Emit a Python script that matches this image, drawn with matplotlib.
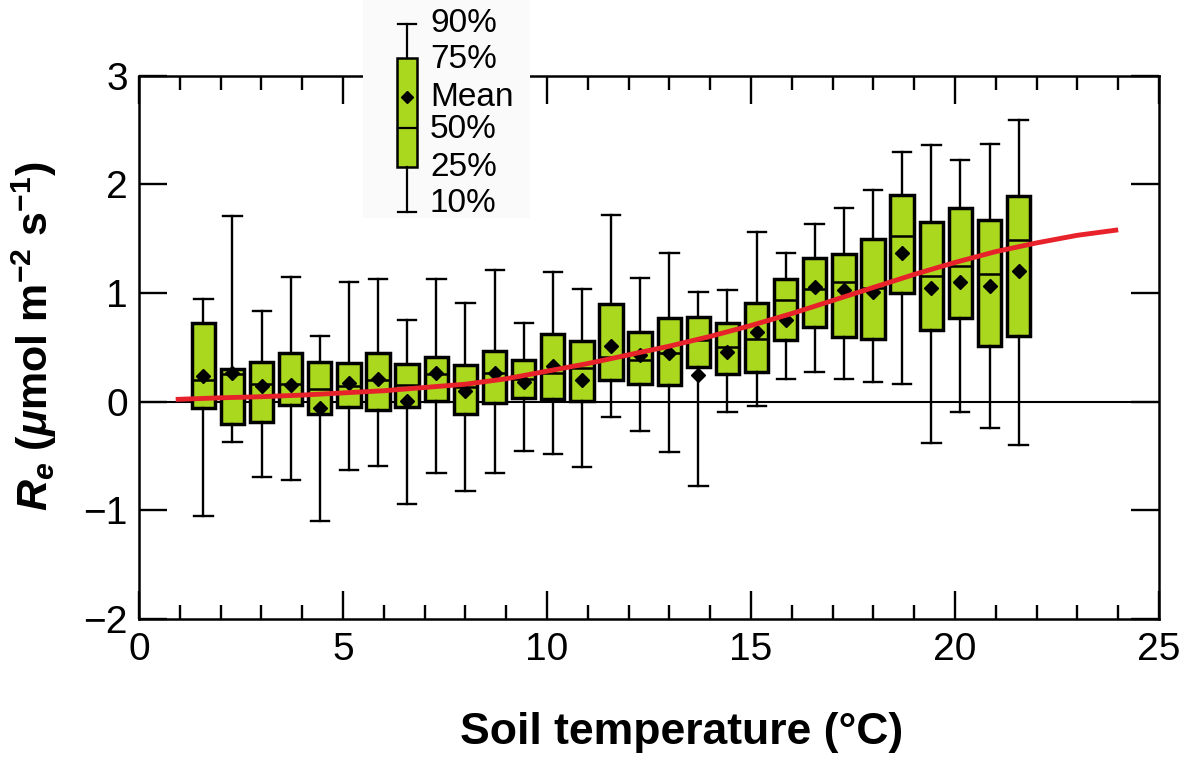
import matplotlib
matplotlib.use("Agg")
import matplotlib.pyplot as plt

plt.rcParams['font.family'] = ['Liberation Sans', 'DejaVu Sans']
plt.rcParams['mathtext.fontset'] = 'custom'
plt.rcParams['mathtext.rm'] = 'Liberation Sans:bold'
plt.rcParams['mathtext.it'] = 'Liberation Sans:italic:bold'
plt.rcParams['mathtext.bf'] = 'Liberation Sans:bold'

# soil temperature bin centres (°C)
temp = [1.58, 2.29, 3.01, 3.72, 4.43, 5.15, 5.86, 6.57, 7.29, 8.00,
        8.72, 9.43, 10.14, 10.86, 11.57, 12.28, 13.00, 13.71, 14.42, 15.14,
        15.85, 16.56, 17.28, 17.99, 18.70, 19.42, 20.13, 20.85, 21.56]

# Re percentiles and mean per bin
p10 = [-1.05, -0.375, -0.695, -0.725, -1.10, -0.625, -0.595, -0.94, -0.66, -0.82,
       -0.66, -0.45, -0.48, -0.60, -0.14, -0.27, -0.46, -0.78, -0.10, -0.04,
       0.205, 0.275, 0.21, 0.18, 0.16, -0.38, -0.10, -0.24, -0.40]
p25 = [-0.055, -0.21, -0.185, -0.03, -0.11, -0.05, -0.08, -0.05, 0.01, -0.11,
       -0.01, 0.03, 0.02, 0.01, 0.20, 0.16, 0.15, 0.315, 0.25, 0.275,
       0.57, 0.69, 0.59, 0.575, 1.00, 0.655, 0.77, 0.51, 0.605]
p50 = [0.20, 0.25, 0.16, 0.16, 0.12, 0.14, 0.20, 0.15, 0.25, 0.13,
       0.26, 0.21, 0.26, 0.31, 0.41, 0.385, 0.445, 0.57, 0.505, 0.58,
       0.935, 1.035, 1.10, 1.045, 1.52, 1.16, 1.25, 1.175, 1.49]
mean = [0.24, 0.26, 0.14, 0.15, -0.055, 0.175, 0.205, 0.01, 0.26, 0.10,
        0.26, 0.18, 0.33, 0.20, 0.51, 0.43, 0.45, 0.245, 0.46, 0.64,
        0.75, 1.05, 1.03, 1.01, 1.37, 1.045, 1.10, 1.06, 1.205]
p75 = [0.72, 0.30, 0.36, 0.45, 0.36, 0.355, 0.445, 0.35, 0.41, 0.34,
       0.465, 0.38, 0.62, 0.56, 0.90, 0.64, 0.77, 0.78, 0.725, 0.905,
       1.13, 1.32, 1.36, 1.50, 1.90, 1.655, 1.785, 1.67, 1.895]
p90 = [0.94, 1.71, 0.83, 1.15, 0.60, 1.10, 1.13, 0.75, 1.13, 0.91,
       1.21, 0.72, 1.19, 1.04, 1.72, 1.14, 1.37, 1.01, 1.03, 1.56,
       1.37, 1.635, 1.78, 1.945, 2.30, 2.36, 2.22, 2.37, 2.595]

# fitted curve
curve_x = [0.9, 2, 3, 4, 5, 6, 7, 8, 9, 10, 11, 12, 13, 14, 15, 16,
           17, 18, 19, 20, 21, 22, 23, 24]
curve_y = [0.02, 0.035, 0.045, 0.06, 0.08, 0.10, 0.13, 0.16, 0.21, 0.28, 0.35, 0.43,
           0.51, 0.60, 0.70, 0.81, 0.93, 1.05, 1.17, 1.28, 1.38, 1.46, 1.53, 1.58]

# legend key (drawn in its own little axes)
legend_labels = ['90%', '75%', 'Mean', '50%', '25%', '10%']
legend_stats = {'whishi': 24, 'q3': 58, 'mean': 97, 'med': 128, 'q1': 167, 'whislo': 212}
legend_text_y = [24, 60, 97, 130, 167, 204]

green = '#a9d81e'
red = '#e8222b'

fig = plt.figure(figsize=(11.82, 7.65), dpi=100)
ax = fig.add_axes([139 / 1182, 1 - 619 / 765, 1020 / 1182, 543.5 / 765])

stats = []
for i in range(len(temp)):
    stats.append({'med': p50[i], 'q1': p25[i], 'q3': p75[i], 'whislo': p10[i],
                  'whishi': p90[i], 'mean': mean[i], 'fliers': []})

ax.axhline(0, color='black', lw=1.5, zorder=1)
ax.bxp(stats, positions=temp, widths=0.57, capwidths=0.45, showmeans=True,
       patch_artist=True, manage_ticks=False,
       boxprops=dict(facecolor=green, edgecolor='black', linewidth=2.5),
       medianprops=dict(color='black', linewidth=1.8),
       whiskerprops=dict(color='black', linewidth=1.7),
       capprops=dict(color='black', linewidth=1.7),
       meanprops=dict(marker='D', markerfacecolor='black', markeredgecolor='black',
                      markersize=7),
       zorder=2)
ax.plot(curve_x, curve_y, color=red, lw=3.5, zorder=4, solid_capstyle='butt')

ax.set_xlim(0, 25)
ax.set_ylim(-2, 3)
ax.set_xticks(range(0, 26, 5))
ax.set_xticks(range(0, 26), minor=True)
ax.set_yticks(range(-2, 4))
ax.tick_params(axis='both', which='major', direction='in', length=20, width=1.7,
               labelsize=28, top=True, right=True)
ax.tick_params(axis='x', which='minor', direction='in', length=10, width=1.7, top=True)
ax.tick_params(axis='x', which='major', pad=9)
ax.tick_params(axis='y', which='major', pad=8)
for s in ax.spines.values():
    s.set_linewidth(1.8)

ax.set_xlabel('Soil temperature (°C)', fontsize=32, fontweight='bold')
ax.xaxis.set_label_coords(0.532, -0.172)
ax.set_ylabel(r'$R_e$ ($\mu$mol m$^{-2}$ s$^{-1}$)', fontsize=31, fontweight='bold')
ax.yaxis.set_label_coords(-0.078, 0.52)

# legend key
lax = fig.add_axes([363 / 1182, 1 - 218 / 765, 167 / 1182, 218 / 765], zorder=5)
lax.set_xlim(0, 167)
lax.set_ylim(218, 0)
lax.axis('off')
lax.add_patch(plt.Rectangle((0, 0), 167, 218, color='#fafafa', zorder=0))
lstat = dict(legend_stats)
lstat['fliers'] = []
lax.bxp([lstat], positions=[44], widths=20, capwidths=18, showmeans=True,
        patch_artist=True, manage_ticks=False,
        boxprops=dict(facecolor=green, edgecolor='black', linewidth=1.8),
        medianprops=dict(color='black', linewidth=1.6),
        whiskerprops=dict(color='black', linewidth=1.6),
        capprops=dict(color='black', linewidth=1.6),
        meanprops=dict(marker='D', markerfacecolor='black', markeredgecolor='black',
                       markersize=6))
for lab, yy in zip(legend_labels, legend_text_y):
    lax.text(67, yy, lab, fontsize=24, va='center', ha='left')

fig.savefig('out.png', dpi=100)
